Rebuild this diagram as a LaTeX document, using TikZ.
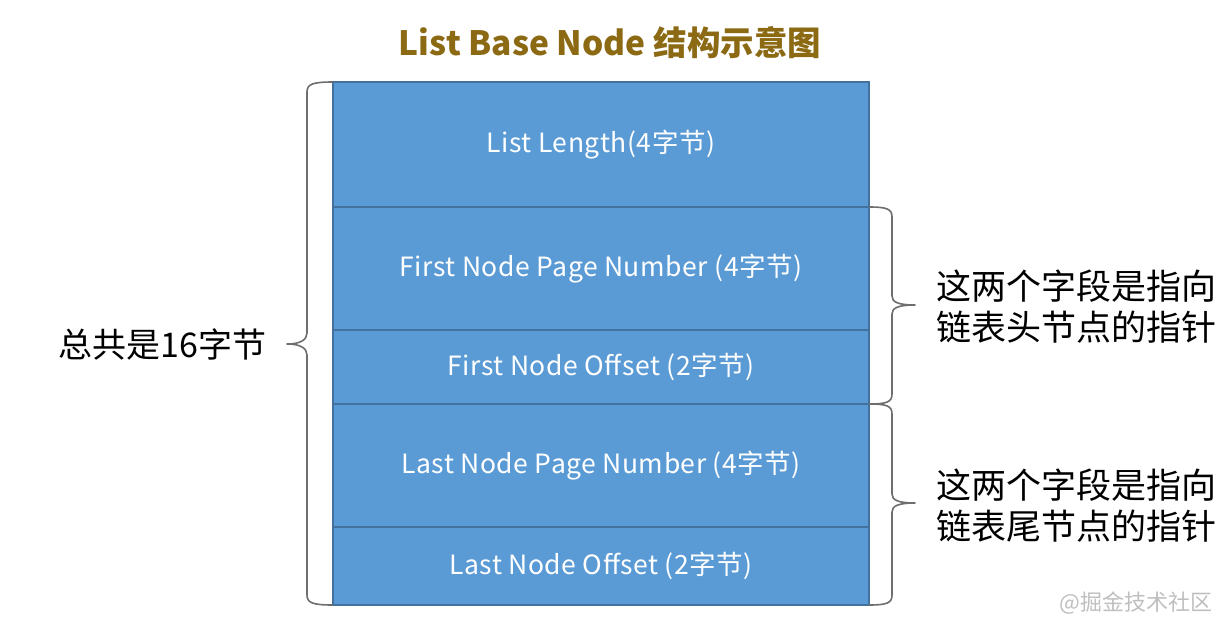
\documentclass[tikz,border=0pt]{standalone}
\usepackage{fontspec}
\setmainfont{Noto Sans CJK SC}
\newfontfamily\cellfont[LetterSpace=2]{Noto Sans CJK SC}
\usetikzlibrary{calc}
\definecolor{cellfill}{HTML}{5B9BD5}
\definecolor{celledge}{HTML}{41719C}
\definecolor{titlecol}{HTML}{8C6A14}
\definecolor{bracecol}{HTML}{6E6E6E}
\tikzset{
  cell/.style={draw=celledge, line width=1.2pt, fill=cellfill, text=white,
    minimum width=536pt, inner sep=0pt, outer sep=0pt,
    font=\cellfont\fontsize{26.5}{30}\selectfont},
  note/.style={text=black, align=left, font=\fontsize{35}{41}\selectfont},
  bracepath/.style={draw=bracecol, line width=1.6pt, line join=round}
}
\begin{document}
\begin{tikzpicture}[x=1pt,y=-1pt]
\useasboundingbox[fill=white] (0,0) rectangle (1228,626);
\node[font=\fontsize{33.5}{38}\selectfont\bfseries, text=titlecol] (title) at (610,43) {List Base Node 结构示意图};
\node[cell, minimum height=125pt] (r1) at (601,144.5) {List Length(4字节)};
\node[cell, minimum height=123pt] (r2) at (601,268.5) {First Node Page Number (4字节)};
\node[cell, minimum height=74pt] (r3) at (601,367) {First Node Offset (2字节)};
\node[cell, minimum height=123pt] (r4) at (601,465.5) {Last Node Page Number (4字节)};
\node[cell, minimum height=78pt] (r5) at (601,566) {Last Node Offset (2字节)};
% left brace
\coordinate (lt) at (r1.north west);
\coordinate (lb) at (r5.south west);
\path[bracepath] (lt) .. controls ($(lt)+(-20,0)$) and ($(lt)+(-26,2)$) .. ($(lt)+(-26,10)$)
  -- (307,333) .. controls (307,340) and (300,344) .. (287,344)
  .. controls (300,344) and (307,348) .. (307,355)
  -- ($(lb)+(-26,-10)$) .. controls ($(lb)+(-26,-2)$) and ($(lb)+(-20,0)$) .. (lb);
\node[note, font=\fontsize{34}{40}\selectfont, anchor=east] (total) at (270,344) {总共是16字节};
% right brace 1
\coordinate (at) at (r2.north east);
\coordinate (ab) at (r3.south east);
\path[bracepath] (at) .. controls ($(at)+(18,0)$) and ($(at)+(23,2)$) .. ($(at)+(23,10)$)
  -- (892,296) .. controls (892,302) and (898,305) .. (915,305)
  .. controls (898,305) and (892,308) .. (892,314)
  -- ($(ab)+(23,-10)$) .. controls ($(ab)+(23,-2)$) and ($(ab)+(18,0)$) .. (ab);
\node[note, anchor=west] (head) at (933,307) {这两个字段是指向\\链表头节点的指针};
% right brace 2
\coordinate (bt) at (r4.north east);
\coordinate (bb) at (r5.south east);
\path[bracepath] (bt) .. controls ($(bt)+(18,0)$) and ($(bt)+(23,2)$) .. ($(bt)+(23,10)$)
  -- (892,494) .. controls (892,500) and (898,503) .. (915,503)
  .. controls (898,503) and (892,506) .. (892,512)
  -- ($(bb)+(23,-10)$) .. controls ($(bb)+(23,-2)$) and ($(bb)+(18,0)$) .. (bb);
\node[note, anchor=west] (tail) at (933,506) {这两个字段是指向\\链表尾节点的指针};
\node[text=black!25, font=\fontsize{22}{26}\selectfont, anchor=east] (wm) at (1216,603) {@掘金技术社区};
\end{tikzpicture}
\end{document}
